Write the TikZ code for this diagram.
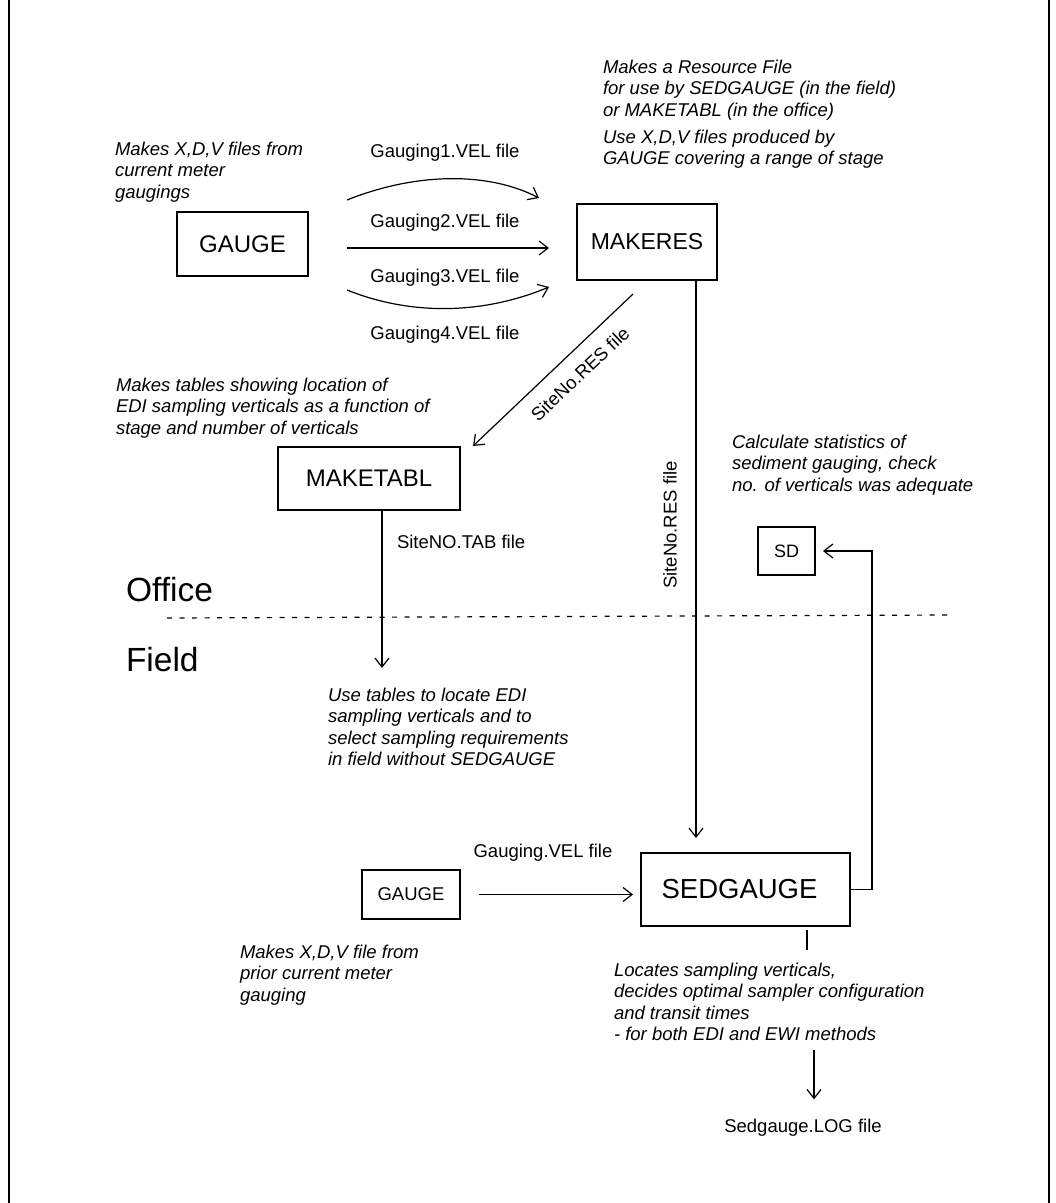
\documentclass[tikz,border=0pt]{standalone}
\usepackage{fontspec}
\setmainfont{Liberation Sans}
\usetikzlibrary{arrows.meta,calc}
\begin{document}
\begin{tikzpicture}[x=1pt,y=-1pt,
  every node/.style={inner sep=0pt, outer sep=0pt},
  box/.style={draw, line width=1.2pt},
  desc/.style={anchor=north west, align=left, font=\fontsize{18.5}{21.5}\selectfont\itshape},
  lab/.style={font=\fontsize{18.5}{22}\selectfont},
  arr/.style={line width=1.2pt, -{Straight Barb[length=9pt,width=14pt,line width=1.2pt]}},
  conn/.style={line width=1.2pt}]
\useasboundingbox (0,0) rectangle (1056,1203);
\draw[line width=1.5pt] (9,0) -- (9,1203);
\draw[line width=1.5pt] (1049,0) -- (1049,1203);

% boxes
\node[box, minimum width=131pt, minimum height=64pt, font=\fontsize{24}{28}\selectfont] (gauge) at (242.5,244) {GAUGE};
\node[box, minimum width=140pt, minimum height=76pt, font=\fontsize{23}{27}\selectfont] (makeres) at (647,242) {MAKERES};
\node[box, minimum width=182pt, minimum height=63pt, font=\fontsize{24}{28}\selectfont] (maketabl) at (369,478.5) {MAKETABL};
\node[box, minimum width=57pt, minimum height=48pt, font=\fontsize{18}{20}\selectfont] (sd) at (786.5,551) {SD};
\node[box, minimum width=98pt, minimum height=49pt, font=\fontsize{18.5}{22}\selectfont] (gauge2) at (411,894.5) {GAUGE};
\node[box, minimum width=209pt, minimum height=73pt, font=\fontsize{27.5}{31}\selectfont] (sedgauge) at (745.5,889.5) {SEDGAUGE\hspace*{12pt}};

% descriptions
\node[desc] (dgauge) at (115,142) {Makes X,D,V files from\\current meter\\gaugings};
\node[desc] (dres1) at (603,60) {Makes a Resource File\\for use by SEDGAUGE (in the field)\\or MAKETABL (in the office)};
\node[desc] (dres2) at (603,130) {Use X,D,V files produced by\\GAUGE covering a range of stage};
\node[desc] (dtabl) at (116,378) {Makes tables showing location of\\EDI sampling verticals as a function of\\stage and number of verticals};
\node[desc] (dsd) at (732,435) {Calculate statistics of\\sediment gauging, check\\no. of verticals was adequate};
\node[desc] (duse) at (328,688) {Use tables to locate EDI\\sampling verticals and to\\select sampling requirements\\in field without SEDGAUGE};
\node[desc] (dgauge2) at (240,945) {Makes X,D,V file from\\prior current meter\\gauging};
\node[desc] (dsed) at (614,963) {Locates sampling verticals,\\decides optimal sampler configuration\\and transit times\\- for both EDI and EWI methods};

% labels
\node[lab] (g1) at (445,153) {Gauging1.VEL file};
\node[lab] (g2) at (445,223) {Gauging2.VEL file};
\node[lab] (g3) at (445,278) {Gauging3.VEL file};
\node[lab] (g4) at (445,335) {Gauging4.VEL file};
\node[lab, anchor=west] (tab) at (397,542) {SiteNO.TAB file};
\node[lab, rotate=43.5] (res1) at (580,374) {SiteNo.RES file};
\node[lab, rotate=90] (res2) at (670,525) {SiteNo.RES file};
\node[lab] (vel) at (543,853) {Gauging.VEL file};
\node[lab] (log) at (803,1128) {Sedgauge.LOG file};
\node[font=\fontsize{33.5}{38}\selectfont, anchor=west] (office) at (126,590) {Office};
\node[font=\fontsize{33.5}{38}\selectfont, anchor=west] (field) at (126,660) {Field};

% office / field divider
\draw[line width=1.2pt, dash pattern=on 5pt off 7.5pt] (167,618) -- (947,615);

% connectors
\draw[arr] ($(gauge.east)+(39,-44)$) .. controls +(70,-28) and +(-50,-26) .. ($(makeres.west)+(-38,-44)$);
\draw[arr] ($(gauge.east)+(39,4)$) -- ($(makeres.west)+(-28,6)$);
\draw[arr] ($(gauge.east)+(39,46)$) .. controls +(70,28) and +(-60,25) .. ($(makeres.west)+(-28,45)$);
\draw[arr] ($(makeres.south)+(-14,14)$) -- ($(maketabl.north east)+(13,-1)$);
\coordinate (resx) at (696,0);
\draw[arr, shorten >=15pt] (makeres.south -| resx) -- (sedgauge.north -| resx);
\coordinate (tabend) at (382,668);
\draw[arr] (maketabl.south -| tabend) -- (tabend);
\coordinate (fb) at (872,0);
\draw[arr, shorten >=8pt] (sedgauge.east) -| (fb |- sd.east) -- (sd.east);
\draw[arr, shorten <=19pt, shorten >=8pt] (gauge2.east) -- (gauge2.east -| sedgauge.west);
\coordinate (tick) at (807,950);
\draw[conn, shorten <=4pt] (sedgauge.south -| tick) -- (tick);
\coordinate (logtop) at (814,1050);
\draw[arr, shorten >=20pt] (logtop) -- (logtop |- log.north);
\end{tikzpicture}
\end{document}
